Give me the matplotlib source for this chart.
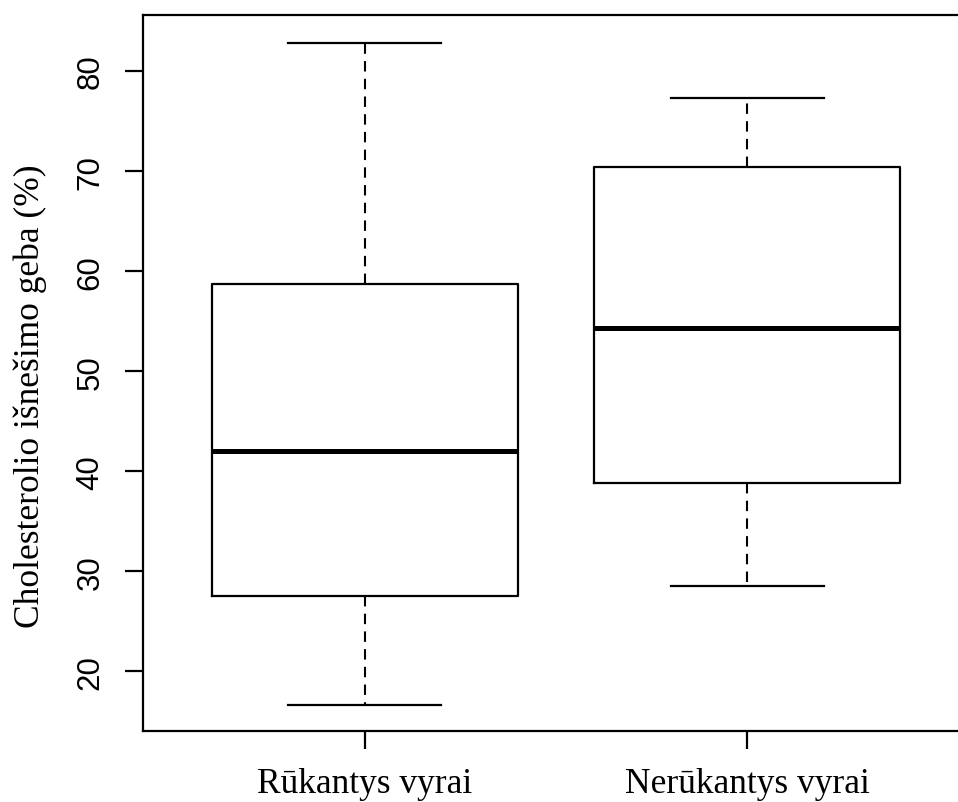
# Boxplot: cholesterol efflux capacity, smokers vs non-smokers (R style)

import matplotlib
matplotlib.use('Agg')
import matplotlib.pyplot as plt

groups = ['Rūkantys vyrai', 'Nerūkantys vyrai']
whisker_low = [16.6, 28.5]
q1 = [27.5, 38.8]
median = [42.0, 54.3]
q3 = [58.7, 70.4]
whisker_high = [82.8, 77.3]
yticks = [20, 30, 40, 50, 60, 70, 80]

stats = []
for i in range(len(groups)):
    stats.append({
        'label': groups[i],
        'whislo': whisker_low[i],
        'q1': q1[i],
        'med': median[i],
        'q3': q3[i],
        'whishi': whisker_high[i],
        'fliers': [],
    })

fig = plt.figure(figsize=(9.58, 8.03), dpi=100)
ax = fig.add_axes([143 / 958, (803 - 732) / 803, (969 - 143) / 958, (732 - 16) / 803])

ax.bxp(stats, positions=[1, 2], widths=0.8, showfliers=False,
       boxprops=dict(color='black', linewidth=1.6),
       medianprops=dict(color='black', linewidth=3.6, solid_capstyle='butt'),
       whiskerprops=dict(color='black', linewidth=1.5, linestyle=(0, (5, 3.5))),
       capprops=dict(color='black', linewidth=1.6),
       capwidths=0.4)

ax.set_xlim(0.42, 2.58)
ax.set_ylim(14.05, 85.6)

ax.set_yticks(yticks)
ax.set_yticklabels([str(v) for v in yticks], rotation=90, va='center',
                   fontfamily='Liberation Sans', fontsize=22.5)
ax.set_xticks([1, 2])
ax.set_xticklabels(groups, fontfamily='Liberation Serif', fontsize=25.5)
ax.tick_params(axis='both', length=13, width=1.6, color='black')
ax.tick_params(axis='y', pad=14)
ax.tick_params(axis='x', pad=13)

# y label sits a bit below the axes centre in the original
fig.text(30 / 958, 1 - 396 / 803, 'Cholesterolio išnešimo geba (%)',
         rotation=90, ha='center', va='center',
         fontfamily='Liberation Serif', fontsize=25.5)

for s in ax.spines.values():
    s.set_linewidth(1.6)
    s.set_color('black')

fig.savefig('out.png', dpi=100)
